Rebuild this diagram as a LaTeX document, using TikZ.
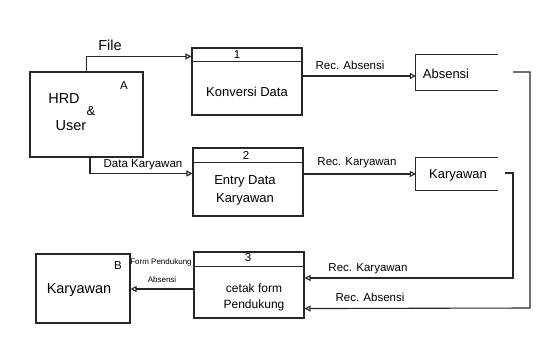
\documentclass[tikz,border=0pt]{standalone}
\usepackage{fontspec}
\setmainfont{Liberation Sans}
\usetikzlibrary{arrows.meta}
\begin{document}
\begin{tikzpicture}[x=1pt,y=-1pt,
  ln/.style={line width=1.1pt,draw=black!85},
  entity/.style={ln,draw,rectangle,inner sep=0pt,align=center},
  proc/.style={ln,draw,rectangle,inner sep=0pt,align=center},
  flow/.style={ln,-{Triangle[open,length=6pt,width=6pt]}},
  lbl/.style={font=\fontsize{11.5}{13}\selectfont,inner sep=1pt},
  small/.style={font=\fontsize{8}{9}\selectfont,inner sep=1pt},
  txt/.style={font=\fontsize{13}{15}\selectfont,inner sep=0pt},
  big/.style={font=\fontsize{14.5}{17}\selectfont,inner sep=0pt}]
\useasboundingbox (0,0) rectangle (540,345);
% entities
\node[entity,minimum width=113pt,minimum height=85pt] (a) at (86.5,114.5) {};
\node[big] (ahrd) at (64,99) {HRD};
\node[txt] (aamp) at (91,111) {\&};
\node[big] (auser) at (71,126) {User};
\node[lbl] (alab) at (124,86) {A};
\node[entity,minimum width=94pt,minimum height=69pt] (b) at (83,288.5) {};
\node[big] (btxt) at (79,290) {Karyawan};
\node[lbl] (blab) at (118,266) {B};
% processes
\node[proc,minimum width=110pt,minimum height=67pt] (p1) at (247,81.5) {};
\draw[ln] ([yshift=-14pt]p1.north west) -- ([yshift=-14pt]p1.north east);
\node[lbl] (p1n) at (237,55) {1};
\node[txt] (p1t) at (247,92) {Konversi Data};
\node[proc,minimum width=110pt,minimum height=68pt] (p2) at (248,182) {};
\draw[ln] ([yshift=-15pt]p2.north west) -- ([yshift=-15pt]p2.north east);
\node[lbl] (p2n) at (246,155) {2};
\node[txt,align=center] (p2t) at (245,190) {Entry Data\\[3pt]Karyawan};
\node[proc,minimum width=110pt,minimum height=66pt] (p3) at (249,285) {};
\draw[ln] ([yshift=-15pt]p3.north west) -- ([yshift=-15pt]p3.north east);
\node[lbl] (p3n) at (248,258) {3};
\node[txt,align=center,font=\fontsize{12}{14}\selectfont] (p3t) at (254,297) {cetak form\\[2pt]Pendukung};
% stores
\node[inner sep=0pt,minimum width=82pt,minimum height=35pt] (s1) at (457,72.5) {};
\draw[ln] (s1.north east) -- (s1.north west) -- (s1.south west) -- (s1.south east);
\node[txt] (s1t) at (446,74) {Absensi};
\node[inner sep=0pt,minimum width=82pt,minimum height=32pt] (s2) at (457,174) {};
\draw[ln] (s2.north east) -- (s2.north west) -- (s2.south west) -- (s2.south east);
\node[txt] (s2t) at (458,175) {Karyawan};
% flows
\draw[flow] (a.north) |- ([yshift=-9pt]p1.north west);
\node[big] (lf) at (110,45) {File};
\draw[flow] ([xshift=3.5pt]a.south) |- ([yshift=-26pt]p2.north west);
\node[lbl] (ldk) at (143,165) {Data Karyawan};
\draw[flow] ([yshift=5.5pt]p1.east) -- ([yshift=5.5pt]p1.east -| s1.west);
\node[lbl] (lra) at (350,65) {Rec. Absensi};
\draw[flow] ([yshift=8pt]p2.east) -- ([yshift=8pt]p2.east -| s2.west);
\node[lbl] (lrk) at (357,163) {Rec. Karyawan};
\coordinate (c1) at (513,72);
\coordinate (c2) at (505,173);
\draw[flow] (c1) -- (530,72) -- (530,308) -- ([yshift=10pt]p3.south east);
\node[lbl] (lra2) at (370,297) {Rec. Absensi};
\draw[flow] (c2) -- (513,173) -- (513,278) -- ([yshift=7pt]p3.east);
\node[lbl] (lrk2) at (368,269) {Rec. Karyawan};
\draw[flow] ([yshift=-4pt]p3.west) -- ([yshift=-4pt]p3.west -| b.east);
\node[small] (lfp) at (161,262) {Form Pendukung};
\node[small] (lfa) at (162,280) {Absensi};
\end{tikzpicture}
\end{document}
